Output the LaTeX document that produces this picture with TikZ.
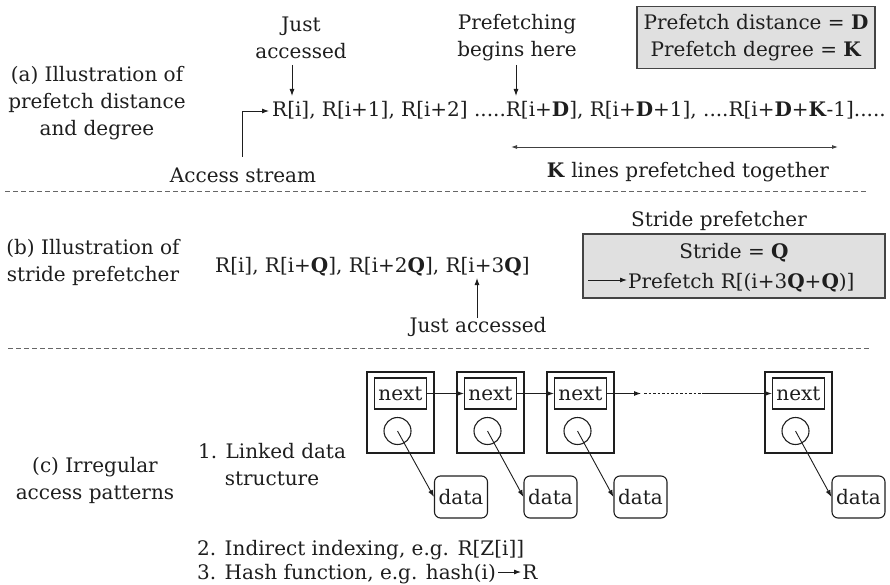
\documentclass[tikz,border=0pt]{standalone}
\usepackage{fontspec}
\setmainfont{DejaVu Serif}
\usetikzlibrary{arrows.meta,calc}
\definecolor{ink}{HTML}{1E1E1E}
\definecolor{boxfill}{HTML}{E0E0E0}
\definecolor{boxline}{HTML}{444444}
\definecolor{sepline}{HTML}{666666}
\begin{document}
\begin{tikzpicture}[x=1pt,y=-1pt,
  every node/.style={inner sep=0pt,text=ink,font=\fontsize{20}{27}\selectfont},
  txt/.style={align=center},
  arr/.style={-{Latex[length=7pt,width=5pt]},line width=0.9pt,draw=ink},
  dblarr/.style={{Latex[length=6pt,width=4pt]}-{Latex[length=6pt,width=4pt]},line width=0.9pt,draw=ink!85},
  sepdash/.style={draw=sepline,dash pattern=on 5pt off 3pt,line width=0.9pt},
  graybox/.style={draw=boxline,fill=boxfill,line width=1.1pt},
  outerbox/.style={draw=ink,line width=1.2pt,minimum width=67pt,minimum height=81pt},
  nextbox/.style={draw=ink,line width=1.1pt,minimum width=52pt,minimum height=31pt},
  ptr/.style={draw=ink,line width=1.1pt,circle,minimum size=27pt},
  databox/.style={draw=ink,line width=1.1pt,rounded corners=6pt,minimum width=53pt,minimum height=42pt}
]
\useasboundingbox (0,0) rectangle (890,585);

% ---------- (a) ----------
\node[txt] (ta) at (97,103) {(a) Illustration of\\prefetch distance\\and degree};
\node[txt] (just) at (301,38) {Just\\accessed};
\node[anchor=base west] (seqa) at (272,117) {R[i], R[i+1], R[i+2] .....R[i+\textbf{D}], R[i+\textbf{D}+1], ....R[i+\textbf{D}+\textbf{K}-1].....};
\coordinate (j1) at (292,65);
\coordinate (j2) at (292,96);
\draw[arr] (j1) -- (j2);
\node (acc) at (243,175) {Access stream};
\coordinate (as1) at (242,157);
\coordinate (as2) at (269,111);
\draw[arr] (as1) |- (as2);
\node[txt] (pref) at (517,38) {Prefetching\\begins here};
\coordinate (p1) at (516,65);
\coordinate (p2) at (516,96);
\draw[arr] (p1) -- (p2);
\node[graybox,minimum width=238pt,minimum height=62pt,txt] (boxa) at (756,37.5) {Prefetch distance = \textbf{D}\\Prefetch degree = \textbf{K}};
\coordinate (k1) at (511,147);
\coordinate (k2) at (838,147);
\draw[dblarr] (k1) -- (k2);
\node (klines) at (688,172) {\textbf{K} lines prefetched together};
\coordinate (s1a) at (5,191);
\coordinate (s1b) at (868,191);
\draw[sepdash] (s1a) -- (s1b);

% ---------- (b) ----------
\node[txt] (tb) at (93,262) {(b) Illustration of\\stride prefetcher};
\node[anchor=base west] (seqb) at (215,272) {R[i], R[i+\textbf{Q}], R[i+2\textbf{Q}], R[i+3\textbf{Q}]};
\coordinate (q1) at (477,318);
\coordinate (q2) at (477,278);
\draw[arr] (q1) -- (q2);
\node (jab) at (478,327) {Just accessed};
\node (spl) at (719,221) {Stride prefetcher};
\node[graybox,minimum width=302pt,minimum height=64pt] (boxb) at (734,266) {};
\node (stq) at (734,253) {Stride = \textbf{Q}};
\node[anchor=base west] (pfr) at (628,288) {Prefetch R[(i+3\textbf{Q}+\textbf{Q})]};
\coordinate (r1) at (588,280);
\draw[arr] (r1) -- ($(pfr.base west)+(-1,-8)$);
\coordinate (s2a) at (8,348);
\coordinate (s2b) at (870,348);
\draw[sepdash] (s2a) -- (s2b);

% ---------- (c) ----------
\node[txt] (tc) at (95,480) {(c) Irregular\\access patterns};
\node[txt] (lds) at (272,465) {1. Linked data\\structure};
\node[anchor=base west] (ii) at (197,555) {2. Indirect indexing, e.g. R[Z[i]]};
\node[anchor=base west] (hf) at (197,579) {3. Hash function, e.g. hash(i)};
\node[anchor=base west] (hr) at ($(hf.base east)+(26,0)$) {R};
\draw[arr] ($(hf.base east)+(2,-7)$) -- ($(hr.base west)+(-1,-7)$);

\foreach \i/\x in {1/400.5,2/490.5,3/580.5,4/798.5}{
  \node[outerbox] (o\i) at (\x,412.5) {};
  \node[nextbox] (n\i) at (\x,393.5) {next};
  \node[ptr] (c\i) at ($(\x,431)+(-3,0)$) {};
}
\foreach \i/\x in {1/461,2/550.5,3/640.5,4/858.5}{
  \node[databox] (d\i) at (\x,497) {data};
}
\foreach \i in {1,2,3,4}{
  \draw[arr] (c\i.center) -- (d\i.west);
}
\draw[arr] (n1.east) -- (n2.west);
\draw[arr] (n2.east) -- (n3.west);
\coordinate (dt1) at (641,393.5);
\coordinate (dt2) at (644,393.5);
\coordinate (dt3) at (702,393.5);
\draw[arr] (n3.east) -- (dt1);
\draw[draw=ink,line width=0.8pt,dash pattern=on 2.5pt off 2pt] (dt2) -- (dt3);
\draw[arr] (dt3) -- (n4.west);
\end{tikzpicture}
\end{document}
